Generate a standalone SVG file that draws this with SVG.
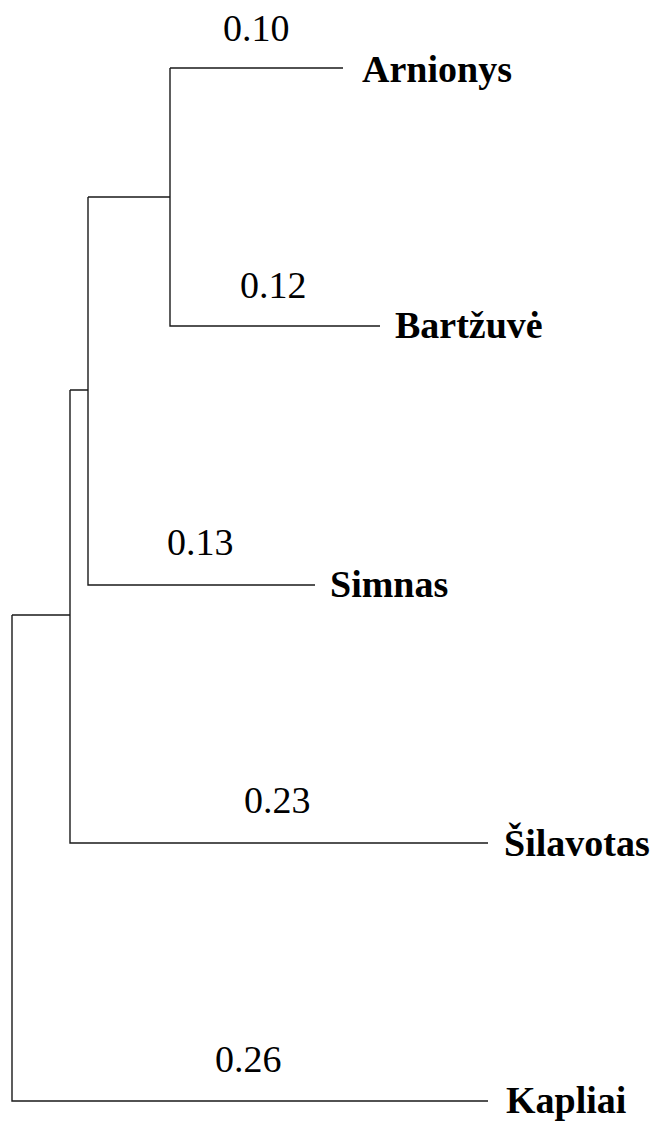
<svg xmlns="http://www.w3.org/2000/svg" width="661" height="1122" viewBox="0 0 661 1122">
<style>
.br{fill:none;stroke:#1a1a1a;stroke-width:1.4}
.num{font-family:"Liberation Serif","Times New Roman",serif;font-size:38px;fill:#000}
.lab{font-family:"Liberation Serif","Times New Roman",serif;font-size:38px;font-weight:bold;fill:#000}
</style>
<rect width="661" height="1122" fill="#fff"/>
<g id="connectors">
<path class="br" d="M170,68 H343 M170,68 V326 H380"/>
<path class="br" d="M88,197 H170 M88,197 V585 H315"/>
<path class="br" d="M70,390 H88 M70,390 V843 H488"/>
<path class="br" d="M12,615 H70 M12,615 V1101 H488"/>
</g>
<g id="labels-lengths">
<text class="num" x="223" y="41">0.10</text>
<text class="num" x="240" y="298">0.12</text>
<text class="num" x="167" y="555">0.13</text>
<text class="num" x="244" y="813">0.23</text>
<text class="num" x="215" y="1072">0.26</text>
</g>
<g id="node-arnionys"><text class="lab" x="362" y="82">Arnionys</text></g>
<g id="node-bartzuve"><text class="lab" x="395" y="338">Bartžuvė</text></g>
<g id="node-simnas"><text class="lab" x="330" y="597">Simnas</text></g>
<g id="node-silavotas"><text class="lab" x="504" y="856">Šilavotas</text></g>
<g id="node-kapliai"><text class="lab" x="506" y="1113">Kapliai</text></g>
</svg>
